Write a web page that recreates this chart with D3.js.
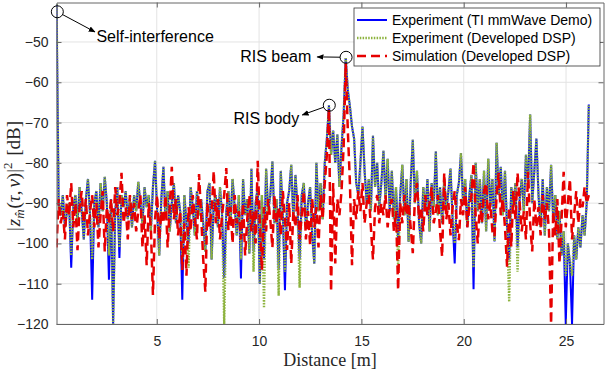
<!DOCTYPE html>
<html>
<head>
<meta charset="utf-8">
<script src="https://cdn.jsdelivr.net/npm/d3@7"></script>
<style>
  body { margin: 0; background: #fff; }
  svg { display: block; font-family: "Liberation Sans", Arial, sans-serif; }
</style>
</head>
<body>
<svg id="chart" width="605" height="374"></svg>
<script>
// range bin spacing [m]
const rangeRes = 0.1024;

// |z|^2 in dB, one value per range bin (bin 1 .. 255)
const tiDemo = [
  -40.6, -90, -93, -88, -96, -92, -90, -106, -91, -88,
  -95, -86, -92, -99, -89, -84, -93, -114, -90, -87,
  -96, -85, -92, -83.5, -90, -109, -89, -120, -92, -86,
  -103.6, -88, -91, -87, -94, -89, -96, -88, -92, -84.7,
  -90, -95, -86, -91, -88, -97, -86, -79.5, -92, -103,
  -89, -81, -94, -87, -97, -90, -85, -95, -88, -92,
  -114, -88, -95, -100, -86, -91, -98, -87, -93, -89,
  -95, -102, -87, -85, -104, -90, -88, -96, -86, -93,
  -108.6, -92, -87, -95, -84, -91, -98, -88, -108.7, -84,
  -93, -89, -102.5, -81.5, -102, -90, -86, -110, -88, -104,
  -81.5, -92, -88, -79.7, -95, -89, -106.6, -82, -93, -111.6,
  -90, -87, -80.5, -94, -83, -91, -104, -88, -85, -96,
  -90, -86, -98, -105, -80, -92, -85, -94, -80, -74,
  -65.7, -78, -72, -80, -73, -86, -76, -68, -54, -62,
  -66, -71, -74, -85, -88, -80, -71, -82, -90, -84,
  -92, -73.3, -86, -80, -91, -85, -77, -89, -79, -92,
  -82, -94, -86, -99, -88, -80.5, -93, -84, -99.6, -85,
  -74.3, -90, -82, -95, -100, -86, -92, -84, -97, -85,
  -91, -77.2, -93, -86, -95, -84, -92, -87, -81.4, -94,
  -105, -88, -85, -77.6, -90, -84, -96, -88, -83, -111.4,
  -80, -92, -84, -95, -82, -97, -79, -91, -84, -99.5,
  -75, -88, -81, -93, -82, -96, -104, -86, -91, -85,
  -101, -89, -84, -92, -78, -86, -68, -90, -82, -74,
  -88, -96, -84, -98, -86, -92, -80.5, -94, -88, -99,
  -92, -103, -97, -120, -100, -105, -120, -98, -104, -96,
  -101, -93, -98, -90, -65.5
];

const devDsp = [
  -40.6, -90, -93, -88, -96, -92, -90, -103, -91, -88,
  -95, -86, -92, -99, -89, -84, -93, -104, -90, -87,
  -96, -85, -92, -83.5, -90, -103, -89, -120, -92, -86,
  -101, -88, -91, -87, -94, -89, -96, -88, -92, -84.7,
  -90, -95, -86, -91, -88, -97, -86, -79.5, -92, -103,
  -89, -81, -94, -87, -97, -90, -85, -95, -88, -92,
  -104, -88, -95, -106, -86, -91, -98, -87, -93, -89,
  -95, -102, -87, -85, -104, -90, -88, -96, -86, -93,
  -120, -92, -87, -95, -84, -91, -98, -88, -104, -84,
  -93, -89, -102.5, -81.5, -107, -90, -86, -110, -88, -116,
  -81.5, -92, -88, -79.7, -95, -89, -113, -82, -93, -107,
  -90, -87, -80.5, -94, -83, -91, -111, -88, -85, -96,
  -90, -86, -98, -105, -80, -92, -85, -94, -80, -74,
  -65.7, -78, -72, -80, -73, -86, -76, -68, -54, -62,
  -66, -71, -74, -85, -88, -80, -71, -82, -90, -84,
  -92, -73.3, -86, -80, -91, -85, -77, -89, -79, -92,
  -82, -94, -86, -106, -88, -80.5, -93, -84, -99.6, -85,
  -74.3, -90, -82, -95, -100, -86, -92, -84, -97, -85,
  -91, -77.2, -93, -86, -95, -84, -92, -87, -81.4, -94,
  -100, -88, -85, -77.6, -90, -84, -96, -88, -83, -106,
  -80, -92, -84, -95, -82, -97, -79, -91, -84, -99.5,
  -75, -88, -81, -93, -82, -96, -114.5, -86, -91, -85,
  -107, -89, -84, -92, -78, -86, -68, -90, -82, -74,
  -88, -96, -84, -98, -86, -92, -80.5, -94, -88, -99,
  -92, -103, -97, -108, -100, -105, -108, -98, -104, -96,
  -101, -93, -98, -90, -65.5
];

const simDsp = [
  -101, -89, -95, -92, -99, -88, -93, -85, -96, -90,
  -101.7, -91, -87, -95, -89, -98, -92, -88, -96, -90,
  -101, -93, -87, -102, -91, -95, -89, -97, -86, -93,
  -90, -82.5, -95, -91, -99, -88, -94, -90, -97, -92,
  -88, -101, -93, -105.4, -90, -96, -112.8, -94, -88, -99,
  -92, -95, -88, -101, -91, -81, -94, -89, -98, -92,
  -106.6, -95, -108, -91, -97, -88, -94, -99, -82.8, -93,
  -104, -112, -90, -96, -92, -82, -95, -89, -99, -93,
  -88, -81.3, -96.7, -91, -100, -88, -95, -92, -99, -90,
  -103, -94, -88, -97, -92, -100, -79.5, -95, -106.6, -91,
  -97, -89, -94, -101, -88, -95, -91, -98, -87, -94,
  -101.6, -90, -105, -92, -96, -88, -99, -93, -87, -99,
  -92, -100.4, -89, -96, -91, -101, -88, -94, -85, -78,
  -66.5, -112, -85, -105, -89, -93, -87, -76, -55.3, -72,
  -85, -105.4, -89, -94, -87, -92, -85, -95, -90, -88,
  -96, -104, -91, -88, -95, -90, -93, -88, -96, -91,
  -89, -97, -92, -111.6, -90, -95, -88, -93, -90, -96,
  -102.4, -89, -85, -94, -91, -97, -88, -93, -90, -86,
  -95, -92, -88, -97, -103.3, -82.5, -94, -90, -98, -91,
  -87, -95, -99.2, -89, -93, -86, -96, -91, -88, -80,
  -93, -100, -90, -95, -87, -85, -94, -90, -97, -98.3,
  -88, -82.5, -93, -89, -96, -105.8, -91, -100.8, -87, -94,
  -82.5, -90, -97, -92, -99, -82.2, -95, -102, -89, -96,
  -91, -98, -88, -94, -90, -97, -120, -92, -98, -89,
  -105, -94, -82.2, -96, -90, -84, -99, -93, -87, -95,
  -89, -91, -86, -90, -88
];

const seriesNames = ["Experiment (TI mmWave Demo)", "Experiment (Developed DSP)", "Simulation (Developed DSP)"];
const xTicks = [5, 10, 15, 20, 25];
const yTicks = [-120, -110, -100, -90, -80, -70, -60, -50];

// annotation: circled point, arrow tip, text anchor (data units)
const notes = [
  { label: "Self-interference", at: [0.14, -42.5], tip: [1.98, -47.5], text: [2.05, -50.0], anchor: "start" },
  { label: "RIS beam", at: [14.25, -53.8], tip: [12.84, -53.7], text: [12.55, -55.0], anchor: "end" },
  { label: "RIS body", at: [13.43, -65.7], tip: [12.11, -68.1], text: [11.96, -70.4], anchor: "end" }
];

const plotLeft = 56.5, plotRight = 603.5, plotTop = 2.5, plotBottom = 324;

const svg = d3.select("#chart");

const x = d3.scaleLinear().domain([0.1, 26.83]).range([plotLeft, plotRight]);
const y = d3.scaleLinear().domain([-120, -40.2]).range([plotBottom, plotTop]);

const dist = d3.range(1, tiDemo.length + 1).map(i => i * rangeRes);

// grid
svg.append("g")
  .selectAll("line")
  .data(xTicks)
  .join("line")
  .attr("x1", d => x(d)).attr("x2", d => x(d))
  .attr("y1", plotTop).attr("y2", plotBottom)
  .attr("stroke", "#e3e3e3").attr("stroke-width", 1);

svg.append("g")
  .selectAll("line")
  .data(yTicks)
  .join("line")
  .attr("x1", plotLeft).attr("x2", plotRight)
  .attr("y1", d => y(d)).attr("y2", d => y(d))
  .attr("stroke", "#e3e3e3").attr("stroke-width", 1);

const defs = svg.append("defs");
defs.append("clipPath").attr("id", "plotclip")
  .append("rect")
  .attr("x", plotLeft).attr("y", plotTop)
  .attr("width", plotRight - plotLeft).attr("height", plotBottom - plotTop);

const line = d3.line()
  .x((d, i) => x(dist[i]))
  .y(d => y(d));

const plot = svg.append("g").attr("clip-path", "url(#plotclip)");

plot.append("path")
  .datum(tiDemo)
  .attr("fill", "none")
  .attr("stroke", "#0000ff")
  .attr("stroke-width", 2)
  .attr("d", line);

plot.append("path")
  .datum(devDsp)
  .attr("fill", "none")
  .attr("stroke", "#8db33f")
  .attr("stroke-width", 2.4)
  .attr("stroke-dasharray", "1.5,1.3")
  .attr("d", line);

plot.append("path")
  .datum(simDsp)
  .attr("fill", "none")
  .attr("stroke", "#e60000")
  .attr("stroke-width", 2.5)
  .attr("stroke-dasharray", "9,5")
  .attr("d", line);

// axes (ticks inside, full box)
const axisColor = "#666";

const gx = svg.append("g")
  .attr("transform", "translate(0," + plotBottom + ")")
  .call(d3.axisBottom(x).tickValues(xTicks).tickSizeInner(-5).tickSizeOuter(0).tickPadding(12));

const gxTop = svg.append("g")
  .attr("transform", "translate(0," + plotTop + ")")
  .call(d3.axisTop(x).tickValues(xTicks).tickSizeInner(-5).tickSizeOuter(0).tickFormat(""));

const gy = svg.append("g")
  .attr("transform", "translate(" + plotLeft + ",0)")
  .call(d3.axisLeft(y).tickValues(yTicks).tickSizeInner(-5).tickSizeOuter(0).tickPadding(8));

const gyRight = svg.append("g")
  .attr("transform", "translate(" + plotRight + ",0)")
  .call(d3.axisRight(y).tickValues(yTicks).tickSizeInner(-5).tickSizeOuter(0).tickFormat(""));

[gx, gxTop, gy, gyRight].forEach(g => {
  g.select(".domain").attr("stroke", axisColor);
  g.selectAll(".tick line").attr("stroke", axisColor);
  g.selectAll(".tick text")
    .attr("fill", "#262626")
    .style("font-family", '"Liberation Sans", Arial, sans-serif')
    .style("font-size", "14px");
});

// axis labels
svg.append("text")
  .attr("x", (plotLeft + plotRight) / 2)
  .attr("y", 366)
  .attr("text-anchor", "middle")
  .style("font-family", '"Liberation Serif", "Times New Roman", serif')
  .style("font-size", "18px")
  .attr("fill", "#262626")
  .text("Distance [m]");

const yl = svg.append("text")
  .attr("transform", "translate(20,176) rotate(-90)")
  .attr("text-anchor", "middle")
  .style("font-family", '"Liberation Serif", "Times New Roman", serif')
  .style("font-size", "19px")
  .attr("fill", "#262626");
yl.append("tspan").text("|");
yl.append("tspan").attr("dx", 1).style("font-style", "italic").text("z");
yl.append("tspan").attr("dy", 4).style("font-size", "13px").style("font-style", "italic").text("m\u0302");
yl.append("tspan").attr("dy", -4).attr("dx", 1).text("(");
yl.append("tspan").style("font-style", "italic").text("\u03C4");
yl.append("tspan").text(",");
yl.append("tspan").attr("dx", 3).style("font-style", "italic").text("\u03BD");
yl.append("tspan").text(")|");
yl.append("tspan").attr("dy", -8).style("font-size", "13px").text("2");
yl.append("tspan").attr("dy", 8).attr("dx", 2).text(" [dB]");

// annotations
defs.append("marker")
  .attr("id", "arrow")
  .attr("viewBox", "0 0 10 10")
  .attr("refX", 9).attr("refY", 5)
  .attr("markerWidth", 7).attr("markerHeight", 7)
  .attr("markerUnits", "userSpaceOnUse")
  .attr("orient", "auto")
  .append("path")
  .attr("d", "M0,1 L10,5 L0,9 Z")
  .attr("fill", "#000");

const circleR = 6;
notes.forEach(n => {
  const cx = x(n.at[0]), cy = y(n.at[1]);
  const tx = x(n.tip[0]), ty = y(n.tip[1]);
  const ang = Math.atan2(ty - cy, tx - cx);
  svg.append("circle")
    .attr("cx", cx).attr("cy", cy).attr("r", circleR)
    .attr("fill", "none").attr("stroke", "#000").attr("stroke-width", 1);
  svg.append("line")
    .attr("x1", cx + circleR * Math.cos(ang)).attr("y1", cy + circleR * Math.sin(ang))
    .attr("x2", tx).attr("y2", ty)
    .attr("stroke", "#000").attr("stroke-width", 1)
    .attr("marker-end", "url(#arrow)");
  svg.append("text")
    .attr("x", x(n.text[0])).attr("y", y(n.text[1]))
    .attr("text-anchor", n.anchor)
    .style("font-size", "16px")
    .attr("fill", "#000")
    .text(n.label);
});

// legend
const legend = svg.append("g").attr("transform", "translate(354,8)");
legend.append("rect")
  .attr("width", 246).attr("height", 58)
  .attr("fill", "#fff").attr("stroke", "#333").attr("stroke-width", 0.8);

const legendStyles = [
  { stroke: "#0000ff", width: 2, dash: null },
  { stroke: "#8db33f", width: 2.4, dash: "1.5,1.3" },
  { stroke: "#e60000", width: 2.5, dash: "9,5" }
];

seriesNames.forEach((name, i) => {
  const row = legend.append("g").attr("transform", "translate(0," + (12 + i * 18) + ")");
  row.append("line")
    .attr("x1", 3).attr("x2", 33)
    .attr("stroke", legendStyles[i].stroke)
    .attr("stroke-width", legendStyles[i].width)
    .attr("stroke-dasharray", legendStyles[i].dash);
  row.append("text")
    .attr("x", 38).attr("dy", "0.35em")
    .style("font-size", "14px")
    .attr("fill", "#000")
    .text(name);
});
</script>
</body>
</html>
